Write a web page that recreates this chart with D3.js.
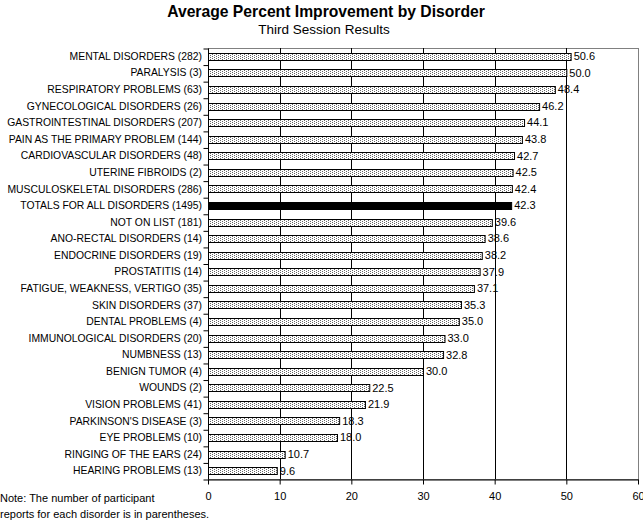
<!DOCTYPE html>
<html>
<head>
<meta charset="utf-8">
<script src="https://cdn.jsdelivr.net/npm/d3@7"></script>
<style>
  body { margin: 0; background: #fff; }
  text { font-family: Arial, "Liberation Sans", sans-serif; fill: #000; }
</style>
</head>
<body>
<div id="chart"></div>
<script>
var categories = [
  "MENTAL DISORDERS (282)", "PARALYSIS (3)", "RESPIRATORY PROBLEMS (63)",
  "GYNECOLOGICAL DISORDERS (26)", "GASTROINTESTINAL DISORDERS (207)",
  "PAIN AS THE PRIMARY PROBLEM (144)", "CARDIOVASCULAR DISORDERS (48)",
  "UTERINE FIBROIDS (2)", "MUSCULOSKELETAL DISORDERS (286)",
  "TOTALS FOR ALL DISORDERS (1495)", "NOT ON LIST (181)",
  "ANO-RECTAL DISORDERS (14)", "ENDOCRINE DISORDERS (19)", "PROSTATITIS (14)",
  "FATIGUE, WEAKNESS, VERTIGO (35)", "SKIN DISORDERS (37)", "DENTAL PROBLEMS (4)",
  "IMMUNOLOGICAL DISORDERS (20)", "NUMBNESS (13)", "BENIGN TUMOR (4)",
  "WOUNDS (2)", "VISION PROBLEMS (41)", "PARKINSON'S DISEASE (3)",
  "EYE PROBLEMS (10)", "RINGING OF THE EARS (24)", "HEARING PROBLEMS (13)"
];
var values = [50.6, 50.0, 48.4, 46.2, 44.1, 43.8, 42.7, 42.5, 42.4, 42.3, 39.6,
  38.6, 38.2, 37.9, 37.1, 35.3, 35.0, 33.0, 32.8, 30.0, 22.5, 21.9, 18.3, 18.0,
  10.7, 9.6];
var totalLabel = "TOTALS FOR ALL DISORDERS (1495)";
var xTicks = [0, 10, 20, 30, 40, 50, 60];
var title = "Average Percent Improvement by Disorder";
var subtitle = "Third Session Results";
var noteLines = ["Note: The number of participant", "reports for each disorder is in parentheses."];

var W = 643, H = 520;
var plotL = 208, plotR = 638, plotT = 48, plotB = 479;

var svg = d3.select("#chart").append("svg")
  .attr("width", W).attr("height", H);

var defs = svg.append("defs");
var pat = defs.append("pattern")
  .attr("id", "dots").attr("patternUnits", "userSpaceOnUse")
  .attr("width", 4).attr("height", 2);
pat.append("rect").attr("width", 4).attr("height", 2).attr("fill", "#fff");
pat.append("rect").attr("x", 0).attr("y", 0).attr("width", 1).attr("height", 1).attr("fill", "#666");
pat.append("rect").attr("x", 2).attr("y", 1).attr("width", 1).attr("height", 1).attr("fill", "#666");

var x = d3.scaleLinear().domain([0, 60]).range([plotL, plotR]);
var y = d3.scaleBand().domain(categories).range([plotT, plotB]).paddingInner(0.58).paddingOuter(0.29);

// plot border (gray)
svg.append("rect")
  .attr("x", plotL + 0.5).attr("y", plotT + 0.5)
  .attr("width", plotR - plotL).attr("height", plotB - plotT)
  .attr("fill", "none").attr("stroke", "#808080");

// gridlines
svg.append("g").selectAll("line")
  .data(xTicks.filter(function(d) { return d > 0 && d < 60; }))
  .enter().append("line")
  .attr("x1", function(d) { return Math.round(x(d)) + 0.5; })
  .attr("x2", function(d) { return Math.round(x(d)) + 0.5; })
  .attr("y1", plotT).attr("y2", plotB)
  .attr("stroke", "#000");

// bars
svg.append("g").selectAll("rect")
  .data(categories)
  .enter().append("rect")
  .attr("x", plotL + 0.5)
  .attr("y", function(d) { return Math.round(y(d)) + 0.5; })
  .attr("height", Math.round(y.bandwidth()))
  .attr("width", function(d, i) { return x(values[i]) - plotL; })
  .attr("fill", function(d) { return d === totalLabel ? "#000" : "url(#dots)"; })
  .attr("stroke", "#000");

// value labels
svg.append("g").selectAll("text")
  .data(categories)
  .enter().append("text")
  .attr("x", function(d, i) { return x(values[i]) + 3; })
  .attr("y", function(d) { return y(d) + y.bandwidth() / 2; })
  .attr("dy", "0.35em")
  .style("font-size", "11px")
  .text(function(d, i) { return values[i].toFixed(1); });

// y axis
var yAxis = d3.axisLeft(d3.scaleLinear().domain([0, categories.length]).range([plotT, plotB]))
  .tickValues(d3.range(0, categories.length + 1))
  .tickSize(5).tickFormat("");
var ya = svg.append("g").attr("transform", "translate(" + (plotL + 0.5) + ",0.5)").call(yAxis);
ya.select(".domain").attr("d", "M0," + plotT + "V" + plotB);

// category labels, sized so the longest one fits like the original
var labels = svg.append("g").selectAll("text")
  .data(categories)
  .enter().append("text")
  .attr("x", plotL - 6)
  .attr("y", function(d) { return y(d) + y.bandwidth() / 2; })
  .attr("dy", "0.35em")
  .attr("text-anchor", "end")
  .style("font-size", "11px")
  .text(function(d) { return d; });
var widest = d3.max(labels.nodes(), function(n) { return n.getComputedTextLength(); });
labels.style("font-size", (11 * 195 / widest) + "px");

// x axis
var xa = svg.append("g").attr("transform", "translate(0," + (plotB + 0.5) + ")")
  .call(d3.axisBottom(x).tickValues(xTicks).tickSize(5).tickSizeOuter(0).tickPadding(8));
xa.select(".domain").attr("stroke", "#000");
xa.selectAll("text").style("font-size", "11px").style("font-family", "Arial, 'Liberation Sans', sans-serif");

// titles
svg.append("text").attr("x", 326).attr("y", 17).attr("text-anchor", "middle")
  .style("font-size", "15.7px").style("font-weight", "bold").text(title);
svg.append("text").attr("x", 324).attr("y", 34).attr("text-anchor", "middle")
  .style("font-size", "13.5px").text(subtitle);

// note
svg.append("g").selectAll("text")
  .data(noteLines)
  .enter().append("text")
  .attr("x", 0)
  .attr("y", function(d, i) { return 502 + i * 16; })
  .style("font-size", "11px")
  .text(function(d) { return d; });
</script>
</body>
</html>
